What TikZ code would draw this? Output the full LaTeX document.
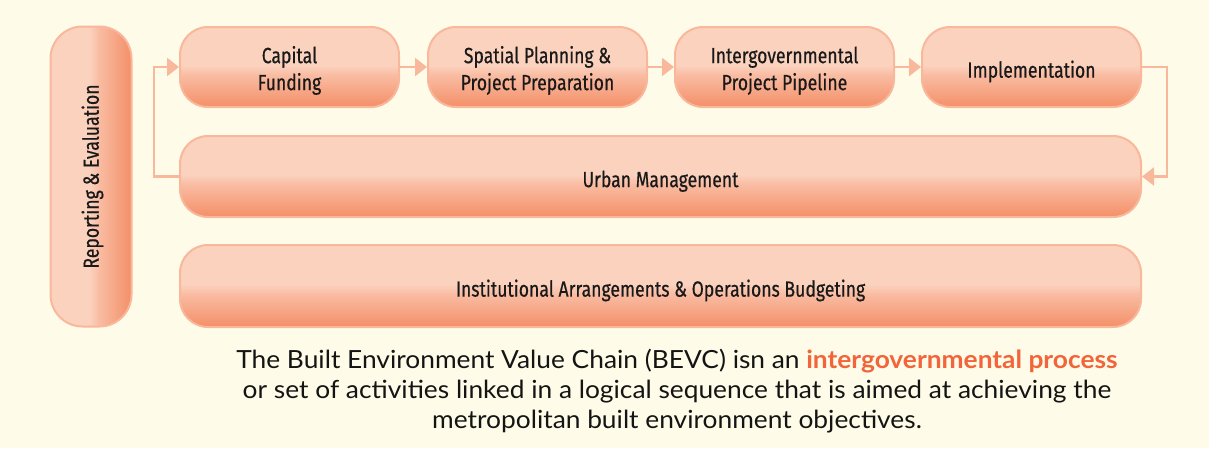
\documentclass[tikz,border=0pt]{standalone}
\usepackage{fontspec}
\usepackage{graphicx}
\usetikzlibrary{arrows.meta}
\newfontfamily\boxfont[FakeStretch=0.8, FakeBold=0.5]{Fira Sans}
\newfontfamily\captfont[FakeStretch=1.053]{Lato}
\definecolor{bgc}{HTML}{FEFCE8}
\definecolor{lightc}{HTML}{FBD2BE}
\definecolor{midc}{HTML}{F9BCA2}
\definecolor{darkc}{HTML}{F48F68}
\definecolor{borderc}{HTML}{F9B79C}
\definecolor{orangetext}{HTML}{F2643A}
\pgfdeclareverticalshading{boxshade}{100bp}{color(0bp)=(darkc); color(25bp)=(darkc); color(45bp)=(midc); color(51bp)=(lightc); color(75bp)=(lightc); color(100bp)=(lightc)}
\pgfdeclarehorizontalshading{sideshade}{100bp}{color(0bp)=(lightc); color(25bp)=(lightc); color(49bp)=(lightc); color(55bp)=(midc); color(75bp)=(darkc); color(100bp)=(darkc)}
\begin{document}
\begin{tikzpicture}[x=1pt,y=-1pt,
  stage/.style={draw=borderc, line width=2pt, rounded corners=28pt, shading=boxshade,
    minimum width=219pt, minimum height=80pt, inner sep=0pt, align=center, text height=26pt,
    font=\boxfont\fontsize{22}{27}\selectfont, text=black!90},
  twoline/.style={stage, text height=51pt},
  wide/.style={stage, minimum width=961pt, minimum height=81pt},
  side/.style={draw=borderc, line width=2pt, rounded corners=32pt, shading=sideshade,
    minimum width=81pt, minimum height=300pt, inner sep=0pt,
    font=\boxfont\fontsize{22}{27}\selectfont, text=black!90},
  conn/.style={draw=borderc, line width=2.5pt, -{Triangle[length=12pt,width=18pt]}},
  ]
\fill[bgc] (0,0) rectangle (1209,448);
\useasboundingbox (0,0) rectangle (1209,448);
\node[twoline] (cap) at (289.5,67) {Capital\\Funding};
\node[twoline] (spa) at (537.5,67) {Spatial Planning \&\\Project Preparation};
\node[twoline] (igp) at (784.5,67) {Intergovernmental\\Project Pipeline};
\node[stage] (imp) at (1031.5,67) {Implementation};
\node[wide] (urb) at (660.5,176.5) {Urban Management};
\node[wide, minimum height=82pt] (ins) at (660.5,286) {Institutional Arrangements \& Operations Budgeting};
\node[side] (rep) at (91,176.5) {\hspace*{3pt}\rotatebox{90}{Reporting \& Evaluation}};
\coordinate (lc) at (154,0);
\coordinate (rc) at (1167,0);
\draw[conn] (cap.east) -- (spa.west);
\draw[conn] (spa.east) -- (igp.west);
\draw[conn] (igp.east) -- (imp.west);
\draw[conn] (imp.east) -- (imp.east -| rc) |- (urb.east);
\draw[conn] (urb.west) -- (urb.west -| lc) |- (cap.west);
\node[align=center, font=\captfont\fontsize{25}{30}\selectfont, text=black!92] (cap2) at (677,391)
 {The Built Environment Value Chain (BEVC) isn an \textcolor{orangetext}{\bfseries intergovernmental process}\\
  or set of activities linked in a logical sequence that is aimed at achieving the\\
  metropolitan built environment objectives.};
\end{tikzpicture}
\end{document}
